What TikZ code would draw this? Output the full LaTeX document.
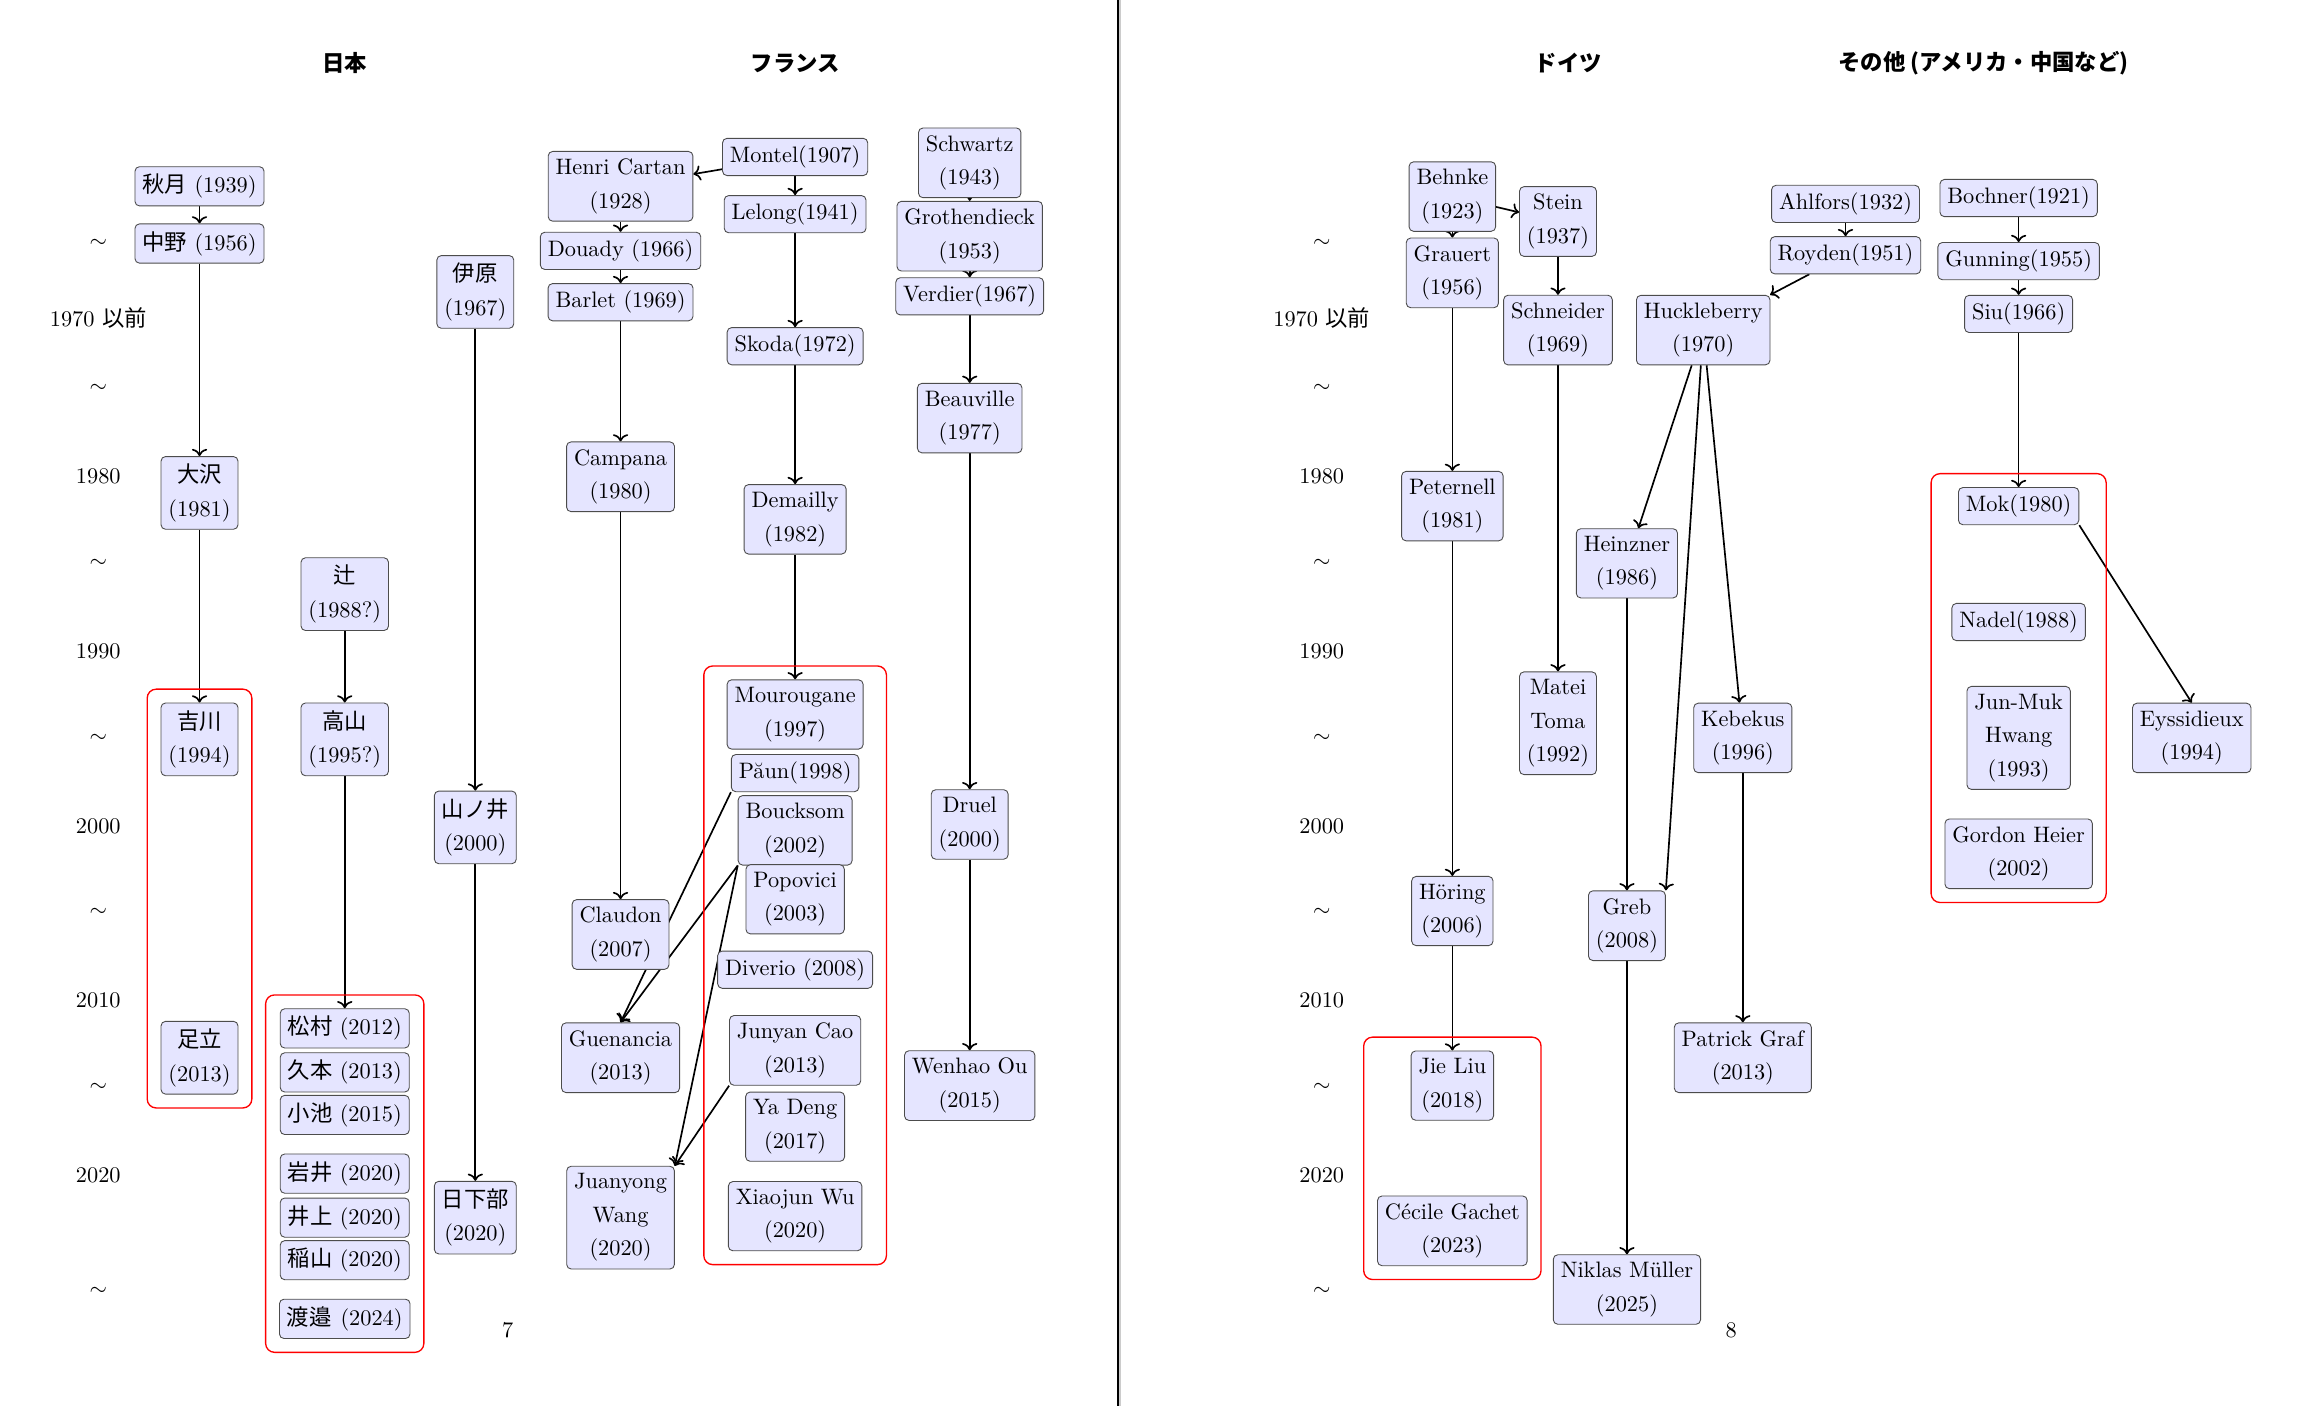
\documentclass[tikz,border=0pt]{standalone}
\usepackage{fontspec}
\newfontfamily\jpfont{Noto Sans CJK JP}
\usetikzlibrary{arrows.meta}
\usetikzlibrary{fit}
\usetikzlibrary{backgrounds}

\tikzset{
  person/.style={draw=black!70, fill=blue!10, rounded corners=2pt, align=center,
    inner sep=3.33pt, font=\fontsize{10}{15}\selectfont},
  group/.style={draw=red, semithick, rounded corners=4pt, inner sep=6pt},
  title/.style={font=\jpfont\bfseries},
  lineage/.style={->, line width=0.75pt},
}

\begin{document}
\begin{tikzpicture}[x=0.6567pt, y=-0.6567pt]
  \useasboundingbox (0,0) rectangle (1567.8,958.4);

  % page border
  \fill[black!20] (762.6,0) rectangle (764.2,958.4);
  \draw[line width=0.6pt] (762,0) -- (762,958.4);

  % titles
  \node[title] (japan) at (235,43) {日本};
  \node[title] (france) at (542,43) {フランス};
  \node[title] (germany) at (1069,43) {ドイツ};
  \node[title] (others) at (1352,43) {その他 (アメリカ・中国など)};

  % years, left page
  \node (la1) at (67,166) {$\sim$};
  \node (la2) at (67,217) {1970 {\jpfont 以前}};
  \node (la3) at (67,265) {$\sim$};
  \node (la4) at (67,325) {1980};
  \node (la5) at (67,384) {$\sim$};
  \node (la6) at (67,444) {1990};
  \node (la7) at (67,503) {$\sim$};
  \node (la8) at (67,563) {2000};
  \node (la9) at (67,622) {$\sim$};
  \node (la10) at (67,682) {2010};
  \node (la11) at (67,741) {$\sim$};
  \node (la12) at (67,801) {2020};
  \node (la13) at (67,880) {$\sim$};

  % years, right page
  \node (ra1) at (901,166) {$\sim$};
  \node (ra2) at (901,217) {1970 {\jpfont 以前}};
  \node (ra3) at (901,265) {$\sim$};
  \node (ra4) at (901,325) {1980};
  \node (ra5) at (901,384) {$\sim$};
  \node (ra6) at (901,444) {1990};
  \node (ra7) at (901,503) {$\sim$};
  \node (ra8) at (901,563) {2000};
  \node (ra9) at (901,622) {$\sim$};
  \node (ra10) at (901,682) {2010};
  \node (ra11) at (901,741) {$\sim$};
  \node (ra12) at (901,801) {2020};
  \node (ra13) at (901,880) {$\sim$};

  % Japan
  \node[person] (akizuki) at (136,127) {{\jpfont 秋月} (1939)};
  \node[person] (nakano) at (136,166) {{\jpfont 中野} (1956)};
  \node[person] (osawa) at (136,336) {{\jpfont 大沢}\\(1981)};
  \node[person] (yoshikawa) at (136,504) {{\jpfont 吉川}\\(1994)};
  \node[person] (adachi) at (136,721) {{\jpfont 足立}\\(2013)};
  \node[person] (tsuji) at (235,405) {{\jpfont 辻}\\(1988?)};
  \node[person] (takayama) at (235,504) {{\jpfont 高山}\\(1995?)};
  \node[person] (matsumura) at (235,701) {{\jpfont 松村} (2012)};
  \node[person] (hisamoto) at (235,731) {{\jpfont 久本} (2013)};
  \node[person] (koike) at (235,760) {{\jpfont 小池} (2015)};
  \node[person] (iwai) at (235,800) {{\jpfont 岩井} (2020)};
  \node[person] (inoue) at (235,830) {{\jpfont 井上} (2020)};
  \node[person] (inayama) at (235,859) {{\jpfont 稲山} (2020)};
  \node[person] (watanabe) at (235,899) {{\jpfont 渡邉}\hspace{0.4em}(2024)};
  \node[person] (ihara) at (324,199) {{\jpfont 伊原}\\(1967)};
  \node[person] (yamanoi) at (324,564) {{\jpfont 山ノ井}\\(2000)};
  \node[person] (kusakabe) at (324,830) {{\jpfont 日下部}\\(2020)};
  \node[group, fit=(yoshikawa)(adachi)] (jpgroup1) {};
  \node[group, fit=(matsumura)(watanabe)] (jpgroup2) {};

  % France
  \node[person] (cartan) at (423,127) {Henri Cartan\\(1928)};
  \node[person] (douady) at (423,171) {Douady (1966)};
  \node[person] (barlet) at (423,206) {Barlet (1969)};
  \node[person] (campana) at (423,325) {Campana\\(1980)};
  \node[person] (claudon) at (423,637) {Claudon\\(2007)};
  \node[person] (guenancia) at (423,721) {Guenancia\\(2013)};
  \node[person] (wang) at (423,830) {Juanyong\\Wang\\(2020)};
  \node[person] (montel) at (542,107) {Montel(1907)};
  \node[person] (lelong) at (542,146) {Lelong(1941)};
  \node[person] (skoda) at (542,236) {Skoda(1972)};
  \node[person] (demailly) at (542,354) {Demailly\\(1982)};
  \node[person] (mourougane) at (542,487) {Mourougane\\(1997)};
  \node[person] (paun) at (542,527) {P\u{a}un(1998)};
  \node[person] (boucksom) at (542,566) {Boucksom\\(2002)};
  \node[person] (popovici) at (542,613) {Popovici\\(2003)};
  \node[person] (diverio) at (542,661) {Diverio (2008)};
  \node[person] (cao) at (542,716) {Junyan Cao\\(2013)};
  \node[person] (deng) at (542,768) {Ya Deng\\(2017)};
  \node[person] (wu) at (542,829) {Xiaojun Wu\\(2020)};
  \node[person] (schwartz) at (661,111) {Schwartz\\(1943)};
  \node[person] (grothendieck) at (661,161) {Grothendieck\\(1953)};
  \node[person] (verdier) at (661,202) {Verdier(1967)};
  \node[person] (beauville) at (661,285) {Beauville\\(1977)};
  \node[person] (druel) at (661,562) {Druel\\(2000)};
  \node[person] (ou) at (661,740) {Wenhao Ou\\(2015)};
  \node[group, fit=(mourougane)(wu)(diverio)] (frgroup) {};

  % Germany
  \node[person] (behnke) at (990,134) {Behnke\\(1923)};
  \node[person] (stein) at (1062,151) {Stein\\(1937)};
  \node[person] (grauert) at (990,186) {Grauert\\(1956)};
  \node[person] (schneider) at (1062,225) {Schneider\\(1969)};
  \node[person] (huckleberry) at (1161,225) {Huckleberry\\(1970)};
  \node[person] (peternell) at (990,345) {Peternell\\(1981)};
  \node[person] (heinzner) at (1109,384) {Heinzner\\(1986)};
  \node[person] (toma) at (1062,493) {Matei\\Toma\\(1992)};
  \node[person] (kebekus) at (1188,503) {Kebekus\\(1996)};
  \node[person] (horing) at (990,621) {H\"oring\\(2006)};
  \node[person] (greb) at (1109,631) {Greb\\(2008)};
  \node[person] (graf) at (1188,721) {Patrick Graf\\(2013)};
  \node[person] (liu) at (990,740) {Jie Liu\\(2018)};
  \node[person] (gachet) at (990,839) {C\'ecile Gachet\\(2023)};
  \node[person] (muller) at (1109,879) {Niklas M\"uller\\(2025)};
  \node[group, fit=(liu)(gachet)] (degroup) {};

  % others
  \node[person] (ahlfors) at (1258,139) {Ahlfors(1932)};
  \node[person] (royden) at (1258,174) {Royden(1951)};
  \node[person] (bochner) at (1376,135) {Bochner(1921)};
  \node[person] (gunning) at (1376,178) {Gunning(1955)};
  \node[person] (siu) at (1376,214) {Siu(1966)};
  \node[person] (mok) at (1376,345) {Mok(1980)};
  \node[person] (nadel) at (1376,424) {Nadel(1988)};
  \node[person] (hwang) at (1376,503) {Jun-Muk\\Hwang\\(1993)};
  \node[person] (heier) at (1376,582) {Gordon Heier\\(2002)};
  \node[person] (eyssidieux) at (1494,503) {Eyssidieux\\(1994)};
  \node[group, fit=(mok)(heier)] (otgroup) {};

  % page numbers
  \node (page7) at (346,907) {7};
  \node (page8) at (1180,907) {8};

  \begin{scope}[on background layer]
    \draw[lineage] (akizuki) -- (nakano);
    \draw[lineage] (nakano) -- (osawa);
    \draw[lineage] (osawa) -- (yoshikawa);
    \draw[lineage] (tsuji) -- (takayama);
    \draw[lineage] (takayama) -- (matsumura);
    \draw[lineage] (ihara) -- (yamanoi);
    \draw[lineage] (yamanoi) -- (kusakabe);

    \draw[lineage] (montel) -- (cartan);
    \draw[lineage] (montel) -- (lelong);
    \draw[lineage] (cartan) -- (douady);
    \draw[lineage] (douady) -- (barlet);
    \draw[lineage] (barlet) -- (campana);
    \draw[lineage] (campana) -- (claudon);
    \draw[lineage] (lelong) -- (skoda);
    \draw[lineage] (skoda) -- (demailly);
    \draw[lineage] (demailly) -- (mourougane);
    \draw[lineage] (paun.south west) -- (guenancia.north);
    \draw[lineage] (boucksom.south west) -- (guenancia.north);
    \draw[lineage] (boucksom.south west) -- (wang.north east);
    \draw[lineage] (cao.south west) -- (wang.north east);
    \draw[lineage] (schwartz) -- (grothendieck);
    \draw[lineage] (grothendieck) -- (verdier);
    \draw[lineage] (verdier) -- (beauville);
    \draw[lineage] (beauville) -- (druel);
    \draw[lineage] (druel) -- (ou);

    \draw[lineage] (behnke) -- (stein);
    \draw[lineage] (behnke) -- (grauert);
    \draw[lineage] (grauert) -- (peternell);
    \draw[lineage] (peternell) -- (horing);
    \draw[lineage] (horing) -- (liu);
    \draw[lineage] (stein) -- (schneider);
    \draw[lineage] (schneider) -- (toma);
    \draw[lineage] (huckleberry) -- (heinzner);
    \draw[lineage] (huckleberry) -- (greb.north east);
    \draw[lineage] (huckleberry) -- (kebekus);
    \draw[lineage] (heinzner) -- (greb);
    \draw[lineage] (greb) -- (muller);
    \draw[lineage] (kebekus) -- (graf);

    \draw[lineage] (ahlfors) -- (royden);
    \draw[lineage] (royden) -- (huckleberry);
    \draw[lineage] (bochner) -- (gunning);
    \draw[lineage] (gunning) -- (siu);
    \draw[lineage] (siu) -- (mok);
    \draw[lineage] (mok.south east) -- (eyssidieux.north);
  \end{scope}
\end{tikzpicture}
\end{document}
